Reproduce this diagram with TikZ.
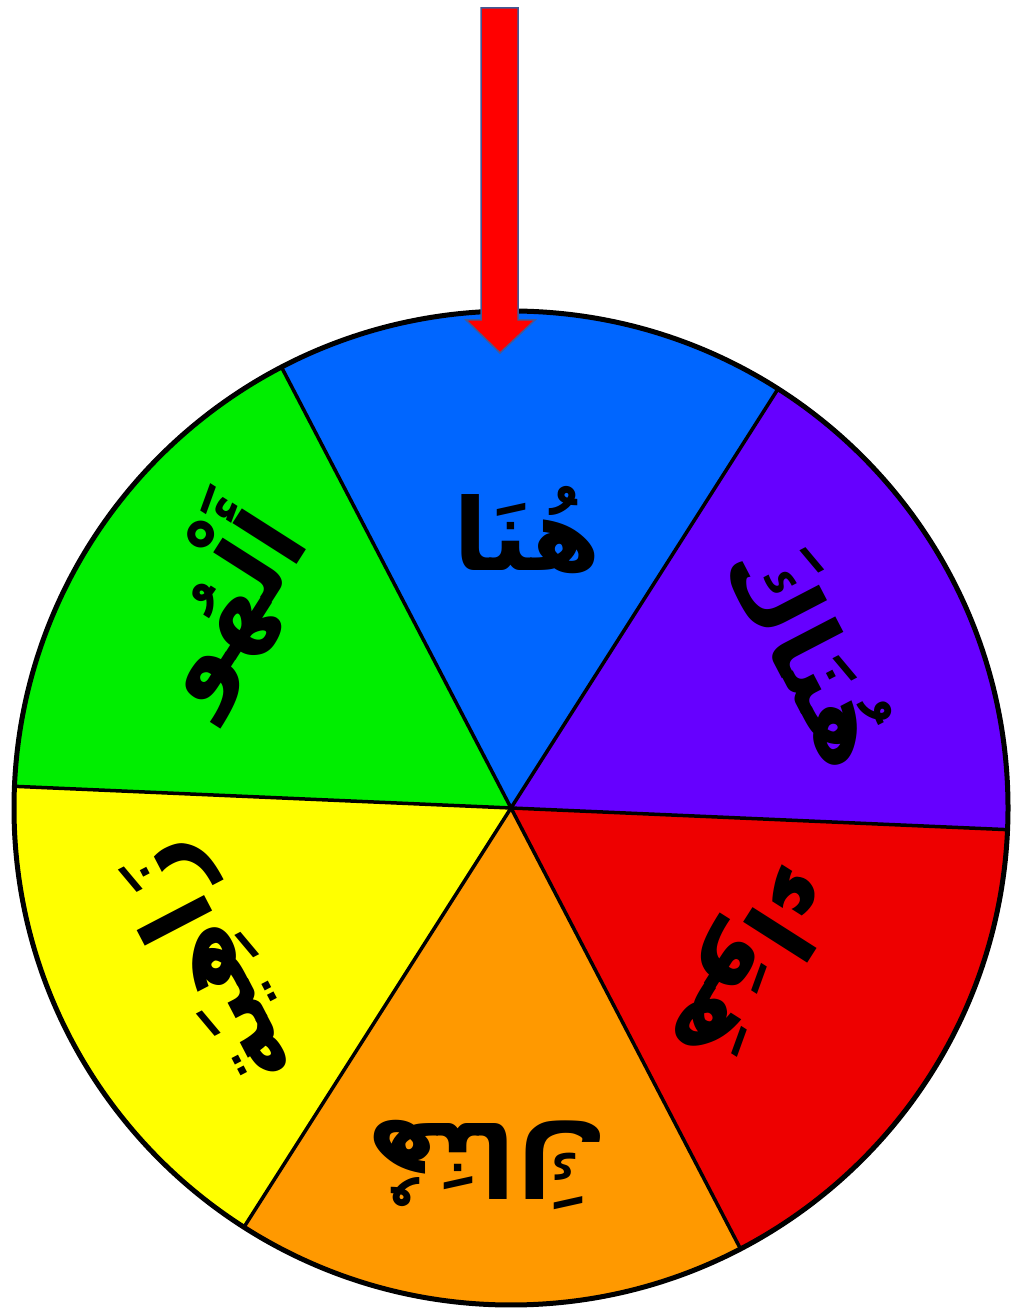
\documentclass[tikz,border=0pt]{standalone}
\usepackage{fontspec}
\newfontfamily\arabicfont[Script=Arabic]{DejaVu Sans}
\TeXXeTstate=1
\usetikzlibrary{calc}
\definecolor{segblue}{RGB}{0,102,255}
\definecolor{segpurple}{RGB}{102,0,255}
\definecolor{segred}{RGB}{238,0,0}
\definecolor{segorange}{RGB}{255,153,0}
\definecolor{segyellow}{RGB}{255,255,0}
\definecolor{seggreen}{RGB}{0,238,0}
\definecolor{arrowrim}{RGB}{65,90,150}
\tikzset{
  spoke/.style={draw=black, line width=3.5pt},
  rim/.style={draw=black, line width=5pt},
  word/.style={font=\arabicfont\bfseries\fontsize{100}{110}\selectfont, inner sep=0pt, text=black},
  pointer/.style={fill=red, draw=arrowrim, line width=1.5pt, line join=miter}
}
\def\R{497}

\begin{document}
\begin{tikzpicture}[x=1pt, y=1pt]
  \useasboundingbox (0,0) rectangle (1021,1315);
  \coordinate (hub) at (511,507);

  % the six slices
  \fill[segblue]   (hub) -- +(57.5:\R)   arc[start angle=57.5,   end angle=117.5, radius=\R] -- cycle;
  \fill[segpurple] (hub) -- +(-2.5:\R)   arc[start angle=-2.5,   end angle=57.5,  radius=\R] -- cycle;
  \fill[segred]    (hub) -- +(-62.5:\R)  arc[start angle=-62.5,  end angle=-2.5,  radius=\R] -- cycle;
  \fill[segorange] (hub) -- +(-122.5:\R) arc[start angle=-122.5, end angle=-62.5, radius=\R] -- cycle;
  \fill[segyellow] (hub) -- +(177.5:\R)  arc[start angle=177.5,  end angle=237.5, radius=\R] -- cycle;
  \fill[seggreen]  (hub) -- +(117.5:\R)  arc[start angle=117.5,  end angle=177.5, radius=\R] -- cycle;

  % spokes and rim
  \coordinate (b1) at ($(hub)+(57.5:\R)$);
  \coordinate (b2) at ($(hub)+(-2.5:\R)$);
  \coordinate (b3) at ($(hub)+(-62.5:\R)$);
  \coordinate (b4) at ($(hub)+(-122.5:\R)$);
  \coordinate (b5) at ($(hub)+(177.5:\R)$);
  \coordinate (b6) at ($(hub)+(117.5:\R)$);
  \draw[spoke] (hub) -- (b1);
  \draw[spoke] (hub) -- (b2);
  \draw[spoke] (hub) -- (b3);
  \draw[spoke] (hub) -- (b4);
  \draw[spoke] (hub) -- (b5);
  \draw[spoke] (hub) -- (b6);
  \draw[rim] (hub) circle[radius=\R];

  % words
  \node[word] (huna)    at (527,785)                 {\beginR هُنَا\endR};
  \node[word, rotate=-62.5] (hunaka) at (815,665)    {\beginR هُنَاكَ\endR};
  \node[word, rotate=-122.5] (hawaa) at (748,352)    {\beginR هَوَاء\endR};
  \node[word, rotate=180] (hunaka2) at (488,150)     {\beginR هُنَاكَ\endR};
  \node[word, rotate=117.5] (zahiya) at (212,350)    {\beginR زَاهِيَة\endR};
  \node[word, rotate=57.5] (alhu)   at (218,712)     {\beginR أَلْهُو\endR};

  % pointer
  \draw[pointer] (481,1307) -- (518,1307) -- (518,995) -- (535,995)
    -- (500,962) -- (466,995) -- (481,995) -- cycle;
\end{tikzpicture}
\end{document}
